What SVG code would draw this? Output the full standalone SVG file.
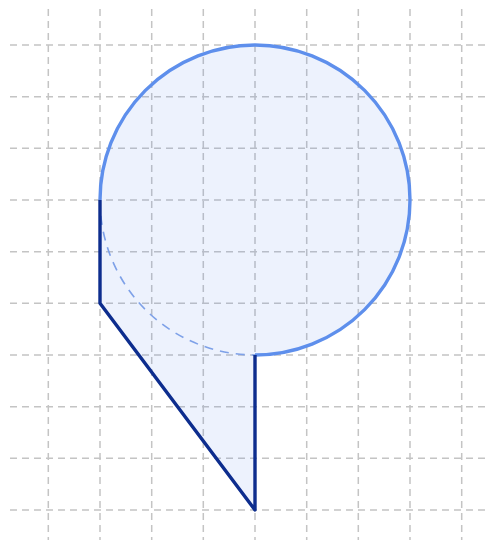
<svg xmlns="http://www.w3.org/2000/svg" width="493" height="546" viewBox="0 0 493 546">
<style>
.grid line{stroke:#c4c4c4;stroke-width:1.5;stroke-dasharray:7 5}
.fill{fill:#4f7fe8;fill-opacity:0.1;stroke:none}
.circ{fill:none;stroke:#5e8fec;stroke-width:3.4}
.hidden{fill:none;stroke:#7ea1e8;stroke-width:1.6;stroke-dasharray:9 7}
.edge{fill:none;stroke:#0d2d8e;stroke-width:3.4;stroke-linejoin:round}
</style>
<rect width="493" height="546" fill="#ffffff"/>
<g class="grid" id="grid">
<line x1="48.3" y1="9" x2="48.3" y2="540"/>
<line x1="100" y1="9" x2="100" y2="540"/>
<line x1="151.7" y1="9" x2="151.7" y2="540"/>
<line x1="203.3" y1="9" x2="203.3" y2="540"/>
<line x1="255" y1="9" x2="255" y2="540"/>
<line x1="306.7" y1="9" x2="306.7" y2="540"/>
<line x1="358.3" y1="9" x2="358.3" y2="540"/>
<line x1="410" y1="9" x2="410" y2="540"/>
<line x1="461.7" y1="9" x2="461.7" y2="540"/>
<line x1="10" y1="45" x2="490" y2="45"/>
<line x1="10" y1="96.7" x2="490" y2="96.7"/>
<line x1="10" y1="148.3" x2="490" y2="148.3"/>
<line x1="10" y1="200" x2="490" y2="200"/>
<line x1="10" y1="251.7" x2="490" y2="251.7"/>
<line x1="10" y1="303.3" x2="490" y2="303.3"/>
<line x1="10" y1="355" x2="490" y2="355"/>
<line x1="10" y1="406.7" x2="490" y2="406.7"/>
<line x1="10" y1="458.3" x2="490" y2="458.3"/>
<line x1="10" y1="510" x2="490" y2="510"/>
</g>
<g id="shape-fill">
<path class="fill" d="M100,200 A155,155 0 1 1 255,355 L255,510 L100,303.3 Z"/>
</g>
<g id="circle">
<path class="circ" d="M100,200 A155,155 0 1 1 255,355"/>
<path class="hidden" d="M100,200 A155,155 0 0 0 255,355"/>
</g>
<g id="polygon">
<polyline class="edge" points="100,200 100,303.3 255,510 255,355"/>
</g>
</svg>
